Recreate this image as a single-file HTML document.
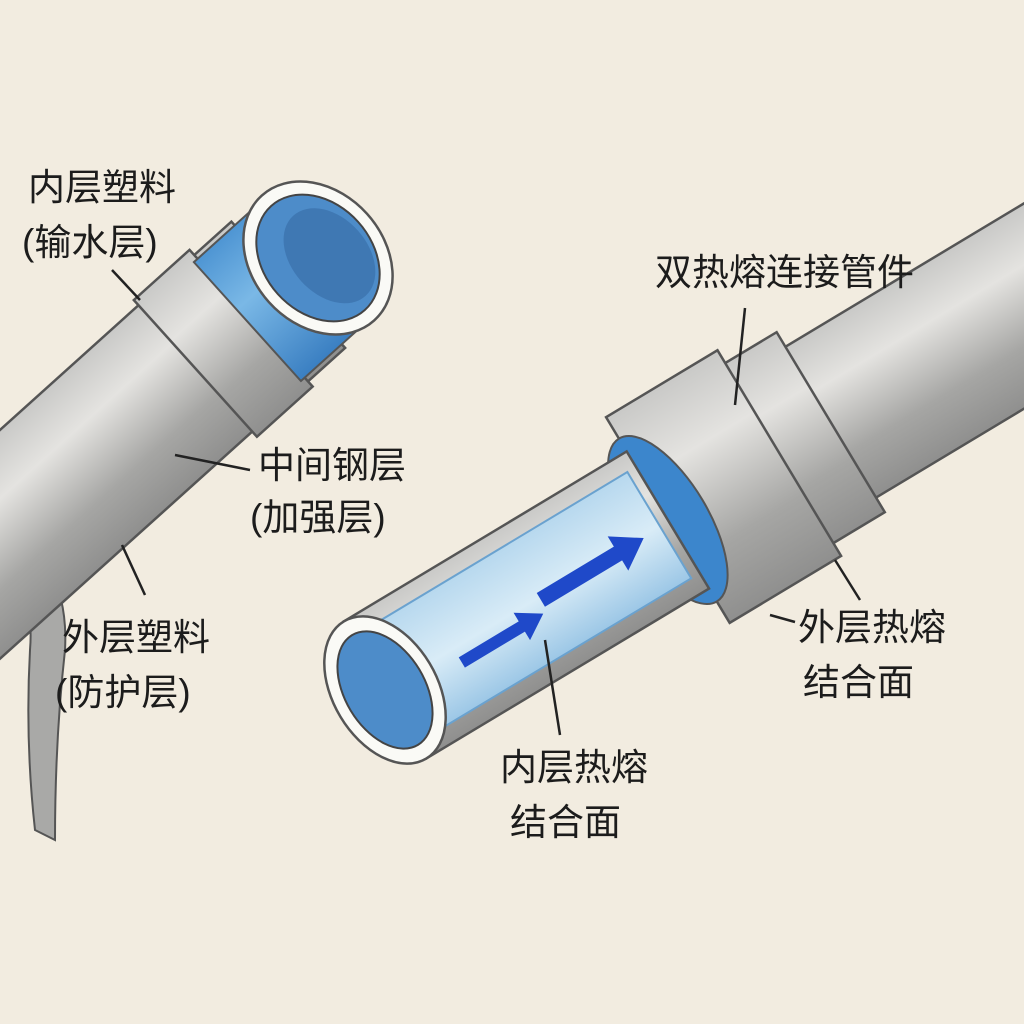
<!DOCTYPE html>
<html><head><meta charset="utf-8"><style>
html,body{margin:0;padding:0;background:#f2ece0}
svg{display:block}
text{font-family:"Liberation Sans","Noto Sans CJK SC",sans-serif;font-size:37px;fill:#1c1c1c}
</style></head><body>
<svg width="1024" height="1024" viewBox="0 0 1024 1024" xmlns="http://www.w3.org/2000/svg">
<defs>
<linearGradient id="g" x1="0" y1="0" x2="0" y2="1">
<stop offset="0" stop-color="#c9c9c7"/><stop offset="0.3" stop-color="#e4e3e0"/><stop offset="0.7" stop-color="#a6a6a4"/><stop offset="1" stop-color="#8f8f8e"/></linearGradient>
<linearGradient id="b" x1="0" y1="0" x2="0" y2="1">
<stop offset="0" stop-color="#4e95d3"/><stop offset="0.4" stop-color="#7ab8e6"/><stop offset="1" stop-color="#3a7fc2"/></linearGradient>
<linearGradient id="cl" x1="0" y1="0" x2="0" y2="1">
<stop offset="0" stop-color="#b7d8ee"/><stop offset="0.5" stop-color="#d9ecf7"/><stop offset="1" stop-color="#9cc7e6"/></linearGradient>
</defs>
<rect width="1024" height="1024" fill="#f2ece0"/>
<!-- curved hose -->
<path d="M0,520 Q70,560 65,650 Q55,740 55,840 L35,830 Q25,740 30,650 Q35,590 0,570 Z" fill="#a9a9a7" stroke="#555" stroke-width="2"/>
<!-- left pipe -->
<g transform="translate(318,258) rotate(-42)">
<rect x="-520" y="-85" width="480" height="170" fill="url(#g)" stroke="#555" stroke-width="2.5"/>
<rect x="-165" y="-92" width="75" height="184" fill="url(#g)" stroke="#555" stroke-width="2.5"/>
<rect x="-95" y="-80" width="95" height="160" fill="url(#b)" stroke="#555" stroke-width="2"/>
<ellipse cx="0" cy="0" rx="66" ry="84" fill="#fafaf6" stroke="#555" stroke-width="2.5"/>
<ellipse cx="0" cy="0" rx="54" ry="70" fill="#4d8cc9" stroke="#444" stroke-width="2"/>
<ellipse cx="10" cy="6" rx="38" ry="54" fill="#2f5f99" opacity="0.45"/>
</g>
<!-- right pipe -->
<g transform="translate(385,690) rotate(-31)">
<rect x="500" y="-88" width="420" height="176" fill="url(#g)" stroke="#555" stroke-width="2.5"/>
<rect x="450" y="-105" width="70" height="210" fill="url(#g)" stroke="#555" stroke-width="2.5"/>
<rect x="330" y="-120" width="130" height="240" fill="url(#g)" stroke="#555" stroke-width="2.5"/>
<ellipse cx="330" cy="0" rx="40" ry="95" fill="#3c86cc" stroke="#555" stroke-width="2"/>
<rect x="0" y="-80" width="330" height="160" fill="url(#g)" stroke="#555" stroke-width="2.5"/>
<rect x="20" y="-62" width="300" height="124" fill="url(#cl)" stroke="#6aa2cf" stroke-width="2"/>
<ellipse cx="0" cy="0" rx="52" ry="80" fill="#fafaf6" stroke="#555" stroke-width="2.5"/>
<ellipse cx="0" cy="0" rx="40" ry="64" fill="#4d8cc9" stroke="#444" stroke-width="2"/>
<path d="M80,10 L150,10 L150,0 L175,16 L150,32 L150,22 L80,22Z" fill="#1f49c9"/>
<path d="M180,-5 L270,-5 L270,-17 L300,3 L270,23 L270,11 L180,11Z" fill="#1f49c9"/>
</g>
<!-- leaders -->
<g stroke="#222" stroke-width="2.5" fill="none">
<line x1="112" y1="270" x2="140" y2="300"/>
<line x1="745" y1="308" x2="735" y2="405"/>
<line x1="250" y1="470" x2="175" y2="455"/>
<line x1="122" y1="545" x2="145" y2="595"/>
<line x1="835" y1="560" x2="860" y2="600"/>
<line x1="795" y1="622" x2="770" y2="615"/>
<line x1="560" y1="735" x2="545" y2="640"/>
</g>
<text x="28" y="200">内层塑料</text>
<text x="22" y="255">(输水层)</text>
<text x="655" y="285">双热熔连接管件</text>
<text x="258" y="478">中间钢层</text>
<text x="250" y="530">(加强层)</text>
<text x="62" y="650">外层塑料</text>
<text x="55" y="705">(防护层)</text>
<text x="798" y="640">外层热熔</text>
<text x="803" y="695">结合面</text>
<text x="500" y="780">内层热熔</text>
<text x="510" y="835">结合面</text>
</svg>
</body></html>
